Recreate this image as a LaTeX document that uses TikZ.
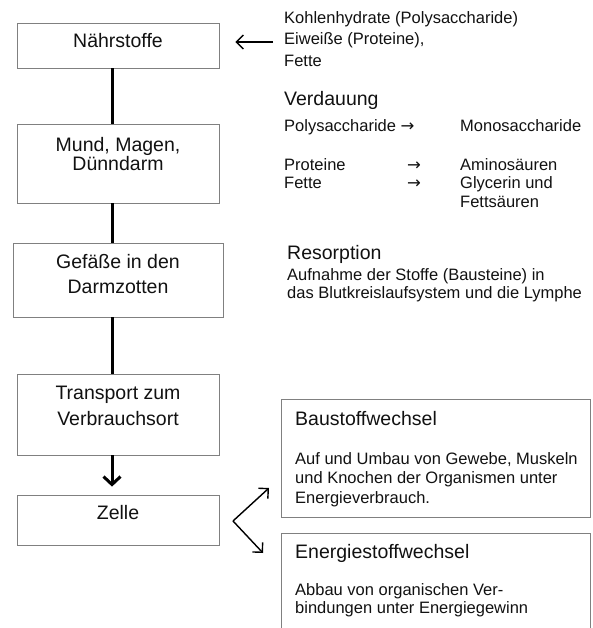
\documentclass[tikz,border=0pt]{standalone}
\usepackage{fontspec}
\setmainfont{Liberation Sans}
\newfontfamily\arrowfont{DejaVu Sans}
\usetikzlibrary{positioning,arrows.meta}
\definecolor{BoxGrey}{HTML}{808080}
\definecolor{Ink}{HTML}{111111}

\newcommand{\pfeil}{{\arrowfont →}}

\tikzset{
	box/.style={draw=BoxGrey, line width=0.8pt, inner sep=0pt},
	boxtext/.style={font=\fontsize{19.5}{25}\selectfont, text=Ink, anchor=base, inner sep=0pt, align=center},
	headtext/.style={font=\fontsize{19.5}{24}\selectfont, text=Ink, anchor=base west, inner sep=0pt},
	smalltext/.style={font=\fontsize{16.5}{20}\selectfont, text=Ink, anchor=base west, inner sep=0pt, align=left},
	chainline/.style={line width=3pt},
	chainarrow/.style={line width=3pt, -{Straight Barb[length=8pt,width=17pt]}},
	thinarrow/.style={line width=1.4pt, -{Straight Barb[length=7pt,width=14pt]}}
}

\begin{document}
\begin{tikzpicture}[x=1pt,y=-1pt]
	\path[use as bounding box] (0,0) rectangle (592,628);
	\clip (0,0) rectangle (592,628);

	% Kette links
	\node[box, minimum width=202pt, minimum height=45pt] (naehr) at (118,45.5) {};
	\node[box, minimum width=202pt, minimum height=79pt] (mund) at (118,163.5) {};
	\node[box, minimum width=210pt, minimum height=74pt] (gefaesse) at (118,280) {};
	\node[box, minimum width=202pt, minimum height=81pt] (transport) at (118,414.5) {};
	\node[box, minimum width=202pt, minimum height=50pt] (zelle) at (118,520) {};

	% multi-line: base = last line
	\node[boxtext] (naehrtext) at (118,48) {Nährstoffe};
	\node[boxtext, font=\fontsize{19.5}{18}\selectfont] (mundtext) at (118,171) {Mund, Magen,\\Dünndarm};
	\node[boxtext] (gefaessetext) at (118,293) {Gefäße in den\\Darmzotten};
	\node[boxtext, font=\fontsize{19.5}{26}\selectfont] (transporttext) at (118,425) {Transport zum\\Verbrauchsort};
	\node[boxtext] (zelletext) at (118,519) {Zelle};

	\draw[chainline] ([xshift=-6pt]naehr.south) -- ([xshift=-6pt]mund.north);
	\draw[chainline] ([xshift=-6pt]mund.south) -- ([xshift=-6pt]gefaesse.north);
	\draw[chainline] ([xshift=-6pt]gefaesse.south) -- ([xshift=-6pt]transport.north);
	\draw[chainarrow, shorten >=8pt] ([xshift=-6pt]transport.south) -- ([xshift=-6pt]zelle.north);

	% Texte rechts
	\node[smalltext, font=\fontsize{16.5}{21.5}\selectfont] (naehrliste) at (284,66.5) {Kohlenhydrate (Polysaccharide)\\Eiweiße (Proteine),\\Fette};
	\coordinate (naehrquelle) at (273,42);
	\draw[thinarrow, shorten >=16pt] (naehrquelle) -- (naehrquelle -| naehr.east);

	\node[headtext] (verdauung) at (284,106) {Verdauung};
	\node[smalltext] (poly) at (284,131.5) {Polysaccharide \pfeil};
	\node[smalltext] (mono) at (460,131.5) {Monosaccharide};
	\node[smalltext] (prot) at (284,170.5) {Proteine};
	\node[smalltext] (protpfeil) at (407,170.5) {\pfeil};
	\node[smalltext] (amino) at (460,170.5) {Aminosäuren};
	\node[smalltext] (fett) at (284,188.5) {Fette};
	\node[smalltext] (fettpfeil) at (407,188.5) {\pfeil};
	\node[smalltext, font=\fontsize{16.5}{19}\selectfont] (glycerin) at (460,207.5) {Glycerin und\\Fettsäuren};

	\node[headtext] (resorption) at (287,259) {Resorption};
	\node[smalltext, font=\fontsize{16.5}{18.5}\selectfont] (resorptext) at (287,298.5) {Aufnahme der Stoffe (Bausteine) in\\das Blutkreislaufsystem und die Lymphe};

	% Stoffwechsel
	\node[box, minimum width=309pt, minimum height=118pt] (bau) at (435.5,458) {};
	\node[box, minimum width=309pt, minimum height=117pt] (energie) at (435.5,591.5) {};

	\node[headtext] (bautitel) at (295,425) {Baustoffwechsel};
	\node[smalltext, font=\fontsize{16.5}{19.5}\selectfont] (bautext) at (295,503) {Auf und Umbau von Gewebe, Muskeln\\und Knochen der Organismen unter\\Energieverbrauch.};
	\node[headtext] (energietitel) at (295,558) {Energiestoffwechsel};
	\node[smalltext, font=\fontsize{16.5}{18}\selectfont] (energietext) at (295,613) {Abbau von organischen Ver-\\bindungen unter Energiegewinn};

	\coordinate (gabel) at (233,521);
	\coordinate (baupfeil) at (269,488);
	\coordinate (energiepfeil) at (263,553);
	\draw[thinarrow] (gabel) -- (baupfeil);
	\draw[thinarrow] (gabel) -- (energiepfeil);
\end{tikzpicture}
\end{document}
